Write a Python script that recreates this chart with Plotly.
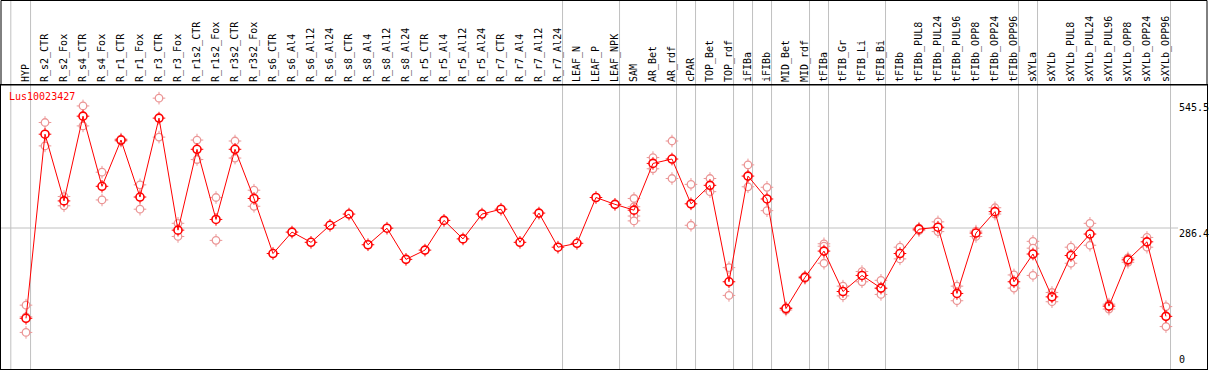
import plotly.graph_objects as go

categories = ["HYP", "R_s2_CTR", "R_s2_Fox", "R_s4_CTR", "R_s4_Fox", "R_r1_CTR", "R_r1_Fox",
              "R_r3_CTR", "R_r3_Fox", "R_r1s2_CTR", "R_r1s2_Fox", "R_r3s2_CTR", "R_r3s2_Fox",
              "R_s6_CTR", "R_s6_Al4", "R_s6_Al12", "R_s6_Al24", "R_s8_CTR", "R_s8_Al4",
              "R_s8_Al12", "R_s8_Al24", "R_r5_CTR", "R_r5_Al4", "R_r5_Al12", "R_r5_Al24",
              "R_r7_CTR", "R_r7_Al4", "R_r7_Al12", "R_r7_Al24", "LEAF_N", "LEAF_P", "LEAF_NPK",
              "SAM", "AR_Bet", "AR_rdf", "cPAR", "TOP_Bet", "TOP_rdf", "iFIBa", "iFIBb",
              "MID_Bet", "MID_rdf", "tFIBa", "tFIB_Gr", "tFIB_Li", "tFIB_Bi", "tFIBb",
              "tFIBb_PUL8", "tFIBb_PUL24", "tFIBb_PUL96", "tFIBb_OPP8", "tFIBb_OPP24",
              "tFIBb_OPP96", "sXYLa", "sXYLb", "sXYLb_PUL8", "sXYLb_PUL24", "sXYLb_PUL96",
              "sXYLb_OPP8", "sXYLb_OPP24", "sXYLb_OPP96"]

mean_values = [101, 479, 342, 516, 372, 467, 350, 512, 282, 448, 304, 448, 347,
               234, 278, 257, 292, 315, 252, 286, 222, 241, 302, 264, 315, 325, 257,
               317, 247, 255, 349, 335, 323, 419, 428, 336, 374, 176, 393, 346, 121,
               185, 239, 156, 189, 163, 234, 284, 288, 152, 276, 320, 176, 233, 145,
               230, 274, 126, 221, 258, 105]

replicate_values = [
    [128, 104, 72], [503, 455], [351, 332], [537, 496], [401, 344], [465, 469],
    [375, 325], [553, 473], [296, 269], [467, 427], [349, 261], [465, 430], [364, 331],
    [], [], [], [], [], [], [], [], [], [], [], [], [], [], [], [], [], [], [],
    [347, 330, 311, 301], [431, 408], [465, 388], [376, 292], [388, 361], [205, 148],
    [416, 371], [370, 322], [118, 123], [183, 187], [254, 249, 214], [167, 147],
    [197, 176], [179, 162, 150], [247, 223], [281, 286], [299, 279], [167, 137],
    [280, 269], [328, 315], [190, 163], [259, 245, 189], [154, 135], [247, 214],
    [296, 251], [130, 120], [225, 216], [267, 247], [125, 84]]

group_ends = [0, 28, 31, 34, 35, 37, 38, 39, 41, 42, 45, 52, 53, 60]
axis_labels = [545.5, 286.4, 0]
title_text = "Lus10023427"

RED = "#ff0000"
PINK = "#eb9696"
GRID = "#c0c0c0"
FONT = "DejaVu Sans Mono"

rep_x, rep_y = [], []
for c, reps in zip(categories, replicate_values):
    for v in reps:
        rep_x.append(c)
        rep_y.append(v)

fig = go.Figure()
# replicate markers: ticks + white-filled circle
fig.add_trace(go.Scatter(x=rep_x, y=rep_y, mode="markers", hoverinfo="skip",
                         marker=dict(symbol="cross-thin", size=9, line=dict(color=PINK, width=1))))
fig.add_trace(go.Scatter(x=rep_x, y=rep_y, mode="markers",
                         marker=dict(symbol="circle", size=7.5, color="white",
                                     line=dict(color=PINK, width=1.3))))
# mean markers
fig.add_trace(go.Scatter(x=categories, y=mean_values, mode="markers", hoverinfo="skip",
                         marker=dict(symbol="cross-thin", size=9, line=dict(color=RED, width=1))))
fig.add_trace(go.Scatter(x=categories, y=mean_values, mode="markers",
                         marker=dict(symbol="circle", size=8, color="white",
                                     line=dict(color=RED, width=1.6))))
# mean line
fig.add_trace(go.Scatter(x=categories, y=mean_values, mode="lines", hoverinfo="skip",
                         line=dict(color=RED, width=1)))

shapes = []
for g in [-1] + group_ends:
    pos = g + 0.24 if g >= 0 else -0.8
    shapes.append(dict(type="line", xref="x", yref="paper", x0=pos, x1=pos, y0=0, y1=1.3,
                       line=dict(color=GRID, width=1), layer="below"))
shapes.append(dict(type="line", xref="paper", yref="y", x0=0, x1=0.976,
                   y0=axis_labels[1], y1=axis_labels[1], line=dict(color=GRID, width=1), layer="below"))
shapes.append(dict(type="rect", xref="paper", yref="paper", x0=0, x1=1, y0=1, y1=1.2975,
                   line=dict(color="black", width=1)))

annotations = [dict(text=title_text, xref="paper", yref="paper", x=0, y=1, xanchor="left",
                    yanchor="top", xshift=6, yshift=-4, showarrow=False,
                    font=dict(family=FONT, size=10, color=RED))]
for v in axis_labels:
    annotations.append(dict(text=f"{v:g}", xref="paper", yref="y", x=1, y=v, xanchor="left",
                            yanchor="top" if v > 0 else "bottom", xshift=-30,
                            yshift=2 if v > 0 else 0, showarrow=False,
                            font=dict(family=FONT, size=10, color="black")))

fig.update_layout(
    width=1209, height=370,
    margin=dict(l=1, r=2, t=85, b=1),
    paper_bgcolor="white", plot_bgcolor="white",
    showlegend=False,
    shapes=shapes, annotations=annotations,
    xaxis=dict(type="category", categoryorder="array", categoryarray=categories,
               range=[-1.316, 62.16], side="top", tickangle=-90,
               tickmode="array", tickvals=categories, ticktext=categories,
               tickfont=dict(family=FONT, size=10, color="black"),
               showgrid=False, zeroline=False, showline=True, mirror=True,
               linecolor="black", linewidth=1, ticks=""),
    yaxis=dict(range=[-3.1, 580], showgrid=False, zeroline=False, showticklabels=False,
               showline=True, mirror=True, linecolor="black", linewidth=1, ticks=""),
)

fig.write_html("out.html", config={"displayModeBar": False},
               post_script="document.body.style.margin='0';document.body.style.overflow='hidden';")
